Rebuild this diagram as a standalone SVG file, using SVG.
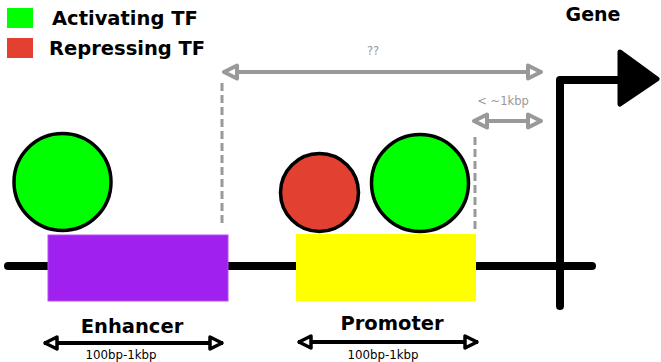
<svg xmlns="http://www.w3.org/2000/svg" width="661" height="362" viewBox="0 0 661 362">
<style>
.t{font-family:"DejaVu Sans","Liberation Sans",sans-serif;}
.b{font-weight:bold;fill:#000;}
.g{fill:#999;font-size:11.5px;}
.s{font-size:11.8px;fill:#000;}
.tf{stroke:#000;stroke-width:3.5;}
.dash{stroke:#999;stroke-width:3;stroke-dasharray:8,4;fill:none;}
.garr{stroke:#999;stroke-width:4;fill:none;marker-start:url(#mg);marker-end:url(#mg);}
.barr{stroke:#000;stroke-width:4;fill:none;marker-start:url(#mb);marker-end:url(#mb);}
</style>
<defs>
<marker id="mg" markerUnits="userSpaceOnUse" orient="auto-start-reverse" refX="0" refY="0" markerWidth="20" markerHeight="20" overflow="visible">
<path d="M-1,0 L-14,-6.5 L-14,6.5 Z" fill="#fff" stroke="#999" stroke-width="4" stroke-linejoin="round"/>
</marker>
<marker id="mb" markerUnits="userSpaceOnUse" orient="auto-start-reverse" refX="0" refY="0" markerWidth="20" markerHeight="20" overflow="visible">
<path d="M-1,0 L-13,-6 L-13,6 Z" fill="#fff" stroke="#000" stroke-width="3.5" stroke-linejoin="round"/>
</marker>
</defs>
<rect width="661" height="362" fill="#fff"/>
<g id="legend">
<rect x="7" y="8" width="26" height="20" fill="#00ff00"/>
<rect x="7" y="38" width="26" height="20" fill="#e24131"/>
<text class="t b" x="52" y="25" font-size="19.5">Activating TF</text>
<text class="t b" x="49" y="55" font-size="19.5">Repressing TF</text>
</g>
<g id="connectors">
<line class="dash" x1="222" y1="83" x2="222" y2="227"/>
<line class="dash" x1="475" y1="137" x2="475" y2="229"/>
<line class="garr" x1="223" y1="72" x2="542" y2="72"/>
<line class="garr" x1="473" y1="121" x2="542" y2="121"/>
<line class="barr" x1="44" y1="343" x2="223" y2="343"/>
<line class="barr" x1="298" y1="342" x2="478" y2="342"/>
<text class="t g" x="373" y="55" text-anchor="middle">??</text>
<text class="t g" x="503" y="105" text-anchor="middle">&lt; ~1kbp</text>
<text class="t s" x="121" y="359" text-anchor="middle">100bp-1kbp</text>
<text class="t s" x="383" y="359" text-anchor="middle">100bp-1kbp</text>
</g>
<g id="dna">
<line x1="8" y1="266" x2="592" y2="266" stroke="#000" stroke-width="8" stroke-linecap="round"/>
</g>
<g id="gene">
<path d="M560,306 L560,80 L622,80" fill="none" stroke="#000" stroke-width="8" stroke-linecap="round" stroke-linejoin="round"/>
<path d="M620,52 L657,79 L620,104 Z" fill="#000" stroke="#000" stroke-width="5" stroke-linejoin="round"/>
<text class="t b" x="593" y="21" font-size="19" text-anchor="middle">Gene</text>
</g>
<g id="enhancer">
<rect x="48" y="235" width="180" height="66" fill="#a020f0" stroke="#b54ef2" stroke-width="1"/>
<text class="t b" x="132" y="333" font-size="19.5" text-anchor="middle">Enhancer</text>
</g>
<g id="promoter">
<rect x="296" y="234" width="180" height="67" fill="#ffff00"/>
<text class="t b" x="392" y="330" font-size="19.5" text-anchor="middle">Promoter</text>
</g>
<g id="tf-enhancer">
<circle class="tf" cx="62.5" cy="182" r="48.5" fill="#00ff00"/>
</g>
<g id="tf-repressor">
<circle class="tf" cx="319.5" cy="192.5" r="39" fill="#e24131"/>
</g>
<g id="tf-promoter">
<circle class="tf" cx="420" cy="183" r="48.5" fill="#00ff00"/>
</g>
</svg>
